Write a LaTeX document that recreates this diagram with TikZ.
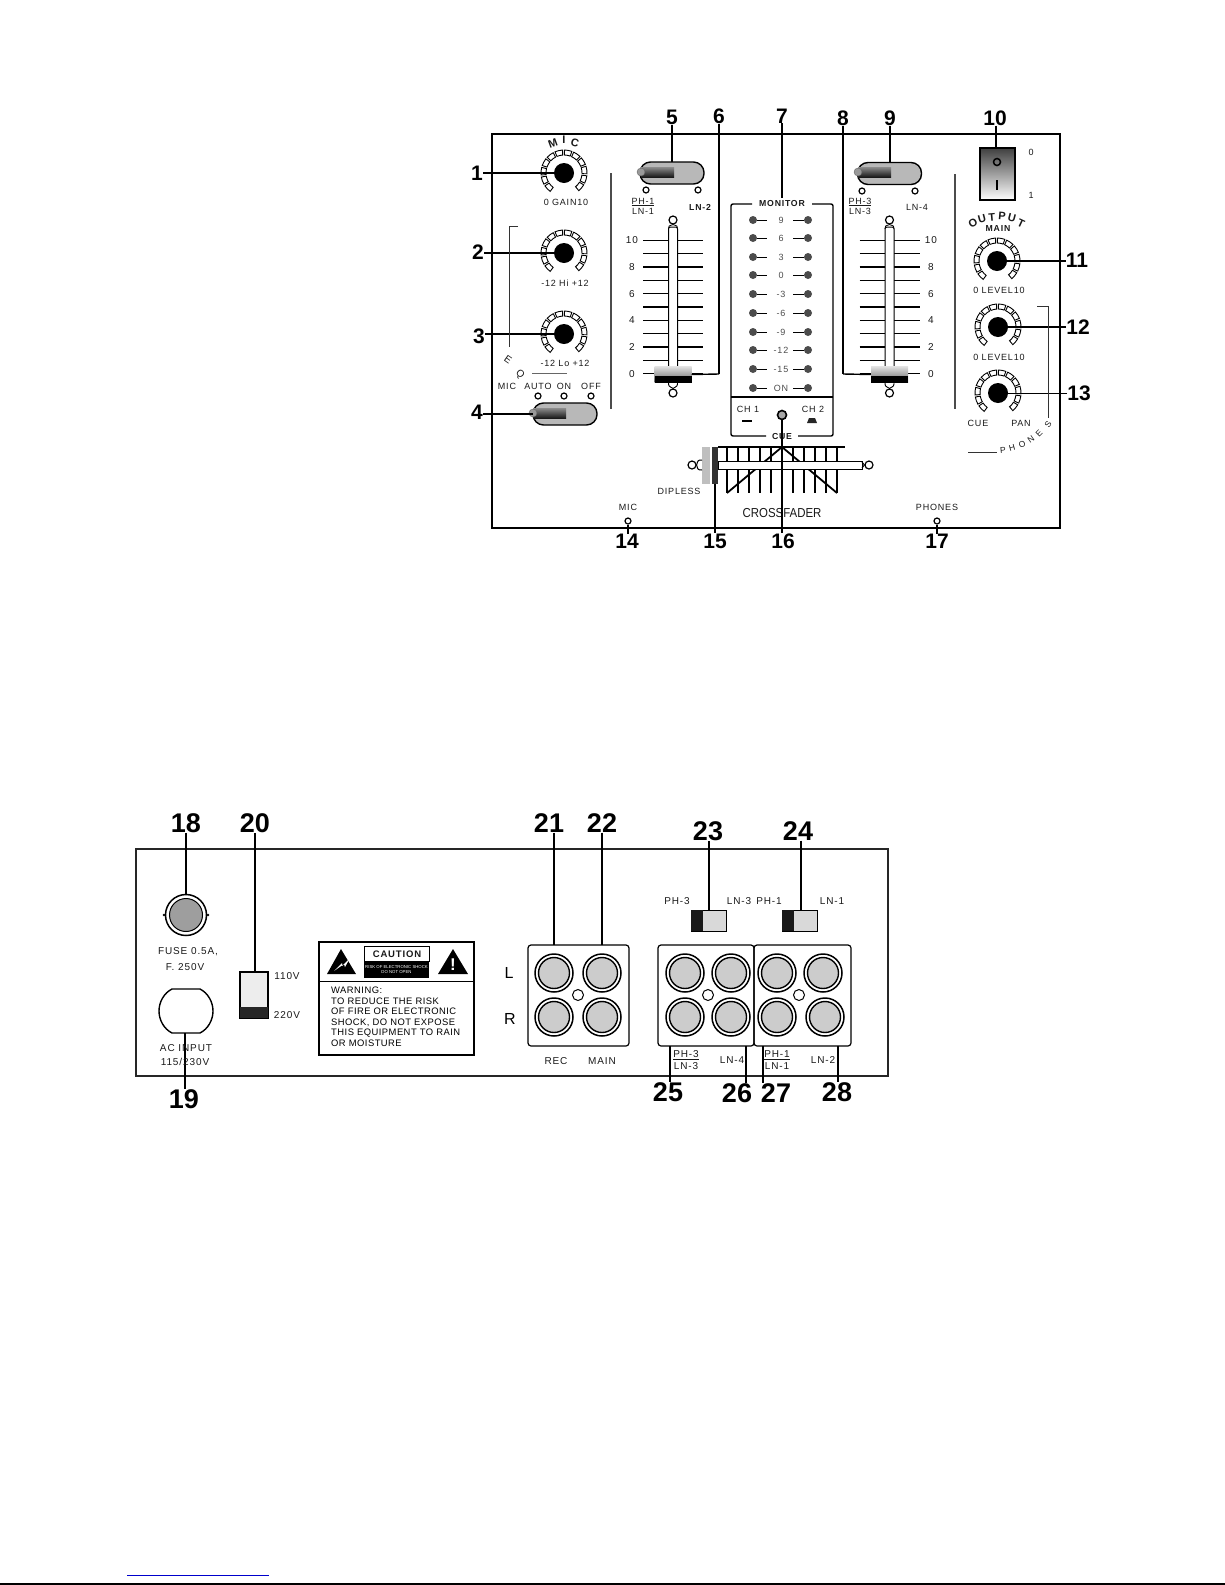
\documentclass[tikz,border=0pt]{standalone}
\usepackage{fontspec}
\setmainfont{Liberation Sans}
\newfontfamily\panelfont[LetterSpace=9]{Liberation Sans}
\newfontfamily\warnfont[LetterSpace=5]{Liberation Sans}
\tikzset{
  num/.style={font=\bfseries\fontsize{21}{21}\selectfont,inner sep=0pt},
  numbig/.style={font=\bfseries\fontsize{27}{27}\selectfont,inner sep=0pt},
  lab/.style={font=\panelfont\fontsize{9}{10}\selectfont,inner sep=0pt,text=black!90,align=center},
  labbold/.style={font=\panelfont\bfseries\fontsize{8.7}{10}\selectfont,inner sep=0pt,text=black!90,align=center},
  labrear/.style={font=\panelfont\fontsize{10}{12}\selectfont,inner sep=0pt,text=black!90,align=center},
  lead/.style={line width=1.4pt},
  knob/.style={circle,fill=black,minimum size=20pt,inner sep=0pt},
  capsule/.style={draw,line width=1.4pt,rounded corners=10.5pt,fill=black!28,minimum width=64pt,minimum height=22pt,inner sep=0pt},
  dot/.style={circle,draw,line width=1.2pt,fill=white,minimum size=6pt,inner sep=0pt},
  led/.style={circle,fill=black!70,minimum size=8pt,inner sep=0pt},
  jackout/.style={circle,draw,line width=1.5pt,fill=white,minimum size=38pt,inner sep=0pt},
  jackin/.style={circle,draw,line width=1.4pt,fill=black!20,minimum size=31pt,inner sep=0pt}
}
\begin{document}
\begin{tikzpicture}[x=1pt,y=-1pt]
\useasboundingbox (0,0) rectangle (1225,1585);

\draw[line width=1.7pt] (492,134) rectangle (1060,528);
\draw[line width=1.5pt,black!85] (136,849) rectangle (888,1076);
\draw[line width=1pt,blue!80!black] (127,1575) -- (269,1575);
\draw[line width=1.2pt] (0,1584) -- (1225,1584);

\foreach \n/\x/\y in {1/477/173,2/478/252,3/479/336,4/477/412,5/672/117,6/719/116,7/782/116,8/843/118,9/890/118,10/995/118,11/1077/260,12/1078/327,13/1079/393,14/627/541,15/715/541,16/783/541,17/937/541}
\node[num] (n\n) at (\x,\y) {\n};
\foreach \n/\x/\y in {18/186/823,20/255/823,19/184/1099,21/549/823,22/602/823,23/708/831,24/798/831,25/668/1092,26/737/1093,27/776/1093,28/837/1092}
\node[numbig] (n\n) at (\x,\y) {\n};

\foreach \n/\x/\y in {1/564/173,2/564/253,3/564/334,11/997/261,12/998/327,13/998/393}{
\foreach \a in {-50,-26,...,226}
\draw[line width=0.9pt,shift={(\x,\y)}] (\a:18pt) arc[start angle=\a,end angle=\a+19,radius=18pt] -- (\a+19:23pt) arc[start angle=\a+19,end angle=\a,radius=23pt] -- cycle;
\node[knob] (knob\n) at (\x,\y) {};
}
\draw[lead] (n1.east |- knob1) -- (knob1);
\draw[lead] (n2.east |- knob2) -- (knob2);
\draw[lead] (n3.east |- knob3) -- (knob3);
\draw[lead] (n11.west |- knob11) -- (knob11);
\draw[lead] (n12.west |- knob12) -- (knob12);
\draw[line width=0.8pt] (n13.west |- knob13) -- (knob13);

\foreach \t/\x/\y/\r [count=\i] in {M/553/143/20,I/564/140/0,C/575/143/-15,O/973/223/30,U/982/219/15,T/992/217/5,P/1002/216/-5,U/1012/218/-15,T/1021/223/-25}
\node[lab,font=\panelfont\bfseries\fontsize{11}{11}\selectfont,rotate=\r] (arc\i) at (\x,\y) {\t};
\foreach \t/\x/\y/\r [count=\i] in {E/508/360/-35,Q/520/374/-45}
\node[lab,font=\panelfont\fontsize{10}{10}\selectfont,rotate=\r] (eq\i) at (\x,\y) {\t};
\foreach \t/\x/\y/\r [count=\i] in {P/1003/450/5,H/1012/448/15,O/1022/444/25,N/1031/439/35,E/1039/433/45,S/1048/424/55}
\node[lab,font=\panelfont\fontsize{8.5}{9}\selectfont,rotate=\r] (ph\i) at (\x,\y) {\t};

\foreach \x/\y/\t [count=\i] in {566/202/0 GAIN10,565/283/-12 Hi +12,565/363/-12 Lo +12,507/386/MIC,538/386/AUTO,564/386/ON,591/386/OFF,917/207/LN-4,748/409/CH 1,813/409/CH 2,679/491/DIPLESS,628/507/MIC,937/507/PHONES,999/290/0 LEVEL10,999/357/0 LEVEL10,978/423/CUE,1021/423/PAN,1031/152/0,1031/195/1}
\node[lab] (lab\i) at (\x,\y) {\t};
\foreach \x/\y/\t [count=\i] in {700/207/LN-2,782/204/MONITOR,782/436/CUE,998/229/MAIN}
\node[labbold] (labb\i) at (\x,\y) {\t};
\node[lab] (frac1) at (643,206) {\underline{PH-1}\\LN-1};
\node[lab] (frac2) at (860,206) {\underline{PH-3}\\LN-3};
\node[lab,font=\fontsize{13}{13}\selectfont] (xfade) at (782,513) {\scalebox{.88}[1]{CROSSFADER}};

\draw[line width=1pt,black!80] (518,226) -- (509,226) -- (509,347);
\draw[line width=1pt,black!60] (532,373) -- (567,373);
\draw[line width=1.1pt,black!70] (611,173) -- (611,409);
\draw[line width=1.1pt,black!70] (955,174) -- (955,409);
\draw[line width=1pt,black!80] (1037,306) -- (1048,306) -- (1048,418);
\draw[line width=1pt,black!80] (968,452) -- (997,452);

\node[capsule] (sw4) at (565,414) {};
\node[capsule] (sw5) at (672,173) {};
\node[capsule] (sw9) at (889.5,173.5) {};
\foreach \x/\y in {533/413,641/172,858/172}{
\fill[top color=black!45,bottom color=black!90] (\x,\y-5) rectangle ++(33,10);
\fill[black!40,draw=black!60] (\x,\y) circle[radius=4pt];
}
\foreach \x/\y [count=\i] in {538/396,564/396,591/396,646/190,698/190,862/191,915/191,628/521,937/521}
\node[dot] (sd\i) at (\x,\y) {};

\foreach \fx/\lx/\v in {673/632/1,889.5/931/2}{
\foreach \i in {0,...,10}
\draw[line width=1.4pt] (\fx-30,240.3+13.33*\i) -- (\fx+30,240.3+13.33*\i);
\node[dot,minimum size=8pt] (ftop\v) at (\fx,220) {};
\node[dot,minimum size=8pt] (fbot\v) at (\fx,393) {};
\draw[line width=0.9pt] (\fx-4.5,229) .. controls (\fx-4.5,226) .. (ftop\v.south) .. controls (\fx+4.5,226) .. (\fx+4.5,229);
\draw[line width=0.9pt] (\fx-4.5,382) .. controls (\fx-4.5,386) .. (fbot\v.north) .. controls (\fx+4.5,386) .. (\fx+4.5,382);
\fill[white,draw=black,line width=1pt,rounded corners=2pt] (\fx-4.5,227) rectangle (\fx+4.5,370);
\node[minimum width=37pt,minimum height=16pt,inner sep=0pt,top color=black!12,bottom color=black!60] (cap\v) at (\fx,374.5) {};
\fill[black] (\fx-18.5,376) rectangle (\fx+18.5,382.5);
\foreach \t [count=\j from 0] in {10,8,6,4,2,0}
\node[lab,font=\panelfont\fontsize{10}{10}\selectfont] (fl\v\j) at (\lx,240.3+26.67*\j) {\t};
}

\draw[line width=1.4pt,rounded corners=2pt] (752,204) -- (731,204) -- (731,436) -- (766,436);
\draw[line width=1.4pt,rounded corners=2pt] (798,436) -- (833,436) -- (833,204) -- (812,204);
\draw[line width=1.4pt] (731,397) -- (833,397);
\foreach \y/\t [count=\i] in {220/9,238/6,257/3,275/0,294/-3,313/-6,332/-9,350/-12,369/-15,388/ON}{
\node[led] (la\i) at (753,\y) {};
\node[led] (lb\i) at (808,\y) {};
\node[lab,text=black!70] (ll\i) at (781,\y) {\t};
\draw[line width=0.8pt] (la\i) -- (767,\y);
\draw[line width=0.8pt] (lb\i) -- (793,\y);
}
\draw[line width=1.5pt] (742,421) -- (752,421);
\fill[black!85] (809,418) -- (815,418) -- (817,423) -- (807,423) -- cycle;
\node[circle,draw,line width=1.6pt,fill=black!35,minimum size=9pt,inner sep=0pt] (cueled) at (782,415) {};

\draw[line width=1.4pt] (718,447) -- (845,447);
\foreach \x in {727,738,...,837}
\draw[line width=1.1pt] (\x,447) -- (\x,493);
\draw[line width=1.8pt] (727,493) -- (782,447) -- (837,493);
\draw[line width=1pt,fill=white] (718,461) rectangle (862,469);
\node[minimum width=8pt,minimum height=37pt,inner sep=0pt,fill=black!25] (xcapa) at (706,465.5) {};
\node[minimum width=6pt,minimum height=37pt,inner sep=0pt,fill=black!80] (xcapb) at (715,465.5) {};
\node[dot,minimum size=8pt] (xl) at (692,465) {};
\node[dot,minimum size=8pt] (xr) at (869,465) {};
\draw[line width=1pt] (702,460) .. controls (698,460) .. (xl.east) .. controls (698,470) .. (702,470);
\draw[line width=1pt] (862,462) -- (xr.west) -- (862,468);

\node[draw,line width=2.5pt,minimum width=35pt,minimum height=52pt,inner sep=0pt,top color=black!75,bottom color=white] (power) at (997.5,174) {};
\node[circle,draw,line width=1.5pt,minimum size=7pt,inner sep=0pt] (powo) at (997,162) {};
\fill[black] (996,180) rectangle (998,190);

\foreach \n/\x/\y in {5/672/162,6/719/374,7/782/198,8/843/374,9/890/163,10/996/147,18/186/895,20/255/972,21/554/945,22/602/945,23/709/910,24/801/910}
\coordinate (c\n) at (\x,\y);
\foreach \n in {5,6,7,8,9,10,18,20,21,22,23,24}
\draw[lead] (c\n |- n\n.south) -- (c\n);
\draw[lead] (c6) -- (cap1.east);
\draw[lead] (c8) -- (cap2.west);
\draw[lead] (n4.east |- sw4) -- (533,414);
\draw[lead] (cueled) -- (cueled |- n16.north);
\draw[lead] (sd8) -- (sd8 |- n14.north);
\draw[lead] (sd9) -- (sd9 |- n17.north);
\coordinate (c15) at (715,484);
\draw[lead] (c15) -- (c15 |- n15.north);

\node[circle,draw,line width=1.5pt,fill=white,minimum size=41pt,inner sep=0pt] (fuse) at (186,915) {};
\node[circle,draw,line width=1pt,fill=black!38,minimum size=33pt,inner sep=0pt] (fusein) at (186,915) {};
\fill (164,915) circle[radius=1.3pt] (208,915) circle[radius=1.3pt];
\draw[line width=1.4pt] (172,989) -- (200,989) .. controls (208,993) and (213,1002) .. (213,1011) .. controls (213,1020) and (208,1029) .. (200,1033) -- (172,1033) .. controls (164,1029) and (159,1020) .. (159,1011) .. controls (159,1002) and (164,993) .. (172,989) -- cycle;
\coordinate (acin) at (185,1033);
\draw[lead] (acin) -- (acin |- n19.north);
\foreach \x/\y/\t [count=\i] in {188/952/{FUSE 0.5A,},185/967/{F. 250V},186/1048/AC INPUT,185/1062/{115/230V}}
\node[labrear] (rl\i) at (\x,\y) {\t};
\foreach \x/\y/\t [count=\i] in {287/976/110V,287/1015/220V,556/1061/REC,602/1061/MAIN,677/901/PH-3,739/901/LN-3,769/901/PH-1,832/901/LN-1,732/1060/LN-4,823/1060/LN-2}
\node[labrear] (rm\i) at (\x,\y) {\t};
\node[labrear] (frac3) at (686,1060) {\underline{PH-3}\\LN-3};
\node[labrear] (frac4) at (777,1060) {\underline{PH-1}\\LN-1};
\node[font=\fontsize{16}{16}\selectfont,inner sep=0pt] (chl) at (509,973) {L};
\node[font=\fontsize{16}{16}\selectfont,inner sep=0pt] (chr) at (510,1019) {R};

\draw[line width=1.2pt,fill=black!7] (240,972) rectangle (268,1018);
\fill[black!85] (240,1007) rectangle (268,1018);

\draw[line width=1.3pt] (319,942) rectangle (474,1055);
\draw[line width=1pt] (319,981) -- (474,981);
\fill[black] (327,974) -- (356,974) -- (341,949) -- cycle;
\fill[white] (334,971) -- (342,963) -- (342,966) -- (350,958) -- (345,967) -- (344,964) -- cycle;
\fill[black] (438,974) -- (468,974) -- (453,949) -- cycle;
\node[font=\bfseries\fontsize{17}{17}\selectfont,text=white,inner sep=0pt] (bang) at (453,965) {!};
\draw[line width=1pt] (364,946) rectangle (429,961);
\fill[black] (364,961) rectangle (429,978);
\node[labrear,font=\panelfont\bfseries\fontsize{9.5}{11}\selectfont] (caution) at (397,954) {CAUTION};
\node[labrear,font=\fontsize{4.3}{5.6}\selectfont,text=white] (risk) at (396.5,969.5) {RISK OF ELECTRONIC SHOCK\\DO NOT OPEN};
\node[labrear,anchor=north west,align=left,text=black,font=\warnfont\fontsize{9.4}{10.5}\selectfont] (warn) at (331,987) {WARNING:\\TO REDUCE THE RISK\\OF FIRE OR ELECTRONIC\\SHOCK, DO NOT EXPOSE\\THIS EQUIPMENT TO RAIN\\OR MOISTURE};

\foreach \n/\x/\y in {23/691/910,24/782/910}{
\draw[line width=1pt,fill=black!15] (\x,\y) rectangle ++(35,21);
\fill[black!90] (\x,\y) rectangle ++(12,21);
}

\draw[line width=1.2pt,rounded corners=3pt] (528,945) rectangle (629,1046);
\draw[line width=1.2pt,rounded corners=3pt] (658,945) rectangle (754,1046);
\draw[line width=1.2pt,rounded corners=3pt] (754,945) rectangle (851,1046);
\foreach \x/\y [count=\i] in {554/973,602/973,554/1017,602/1017,685/973,731/973,685/1017,731/1017,777/973,823/973,777/1017,825/1017}{
\node[jackout] (jo\i) at (\x,\y) {};
\node[jackin] (ji\i) at (\x,\y) {};
}
\foreach \x in {578,708,799}
\node[circle,draw,line width=1pt,minimum size=11pt,inner sep=0pt] (hole\x) at (\x,995) {};
\foreach \n/\x in {25/670,26/746,27/763,28/838}{
\coordinate (c\n) at (\x,1046);
\draw[lead] (c\n) -- (c\n |- n\n.north);
}
\end{tikzpicture}
\end{document}
